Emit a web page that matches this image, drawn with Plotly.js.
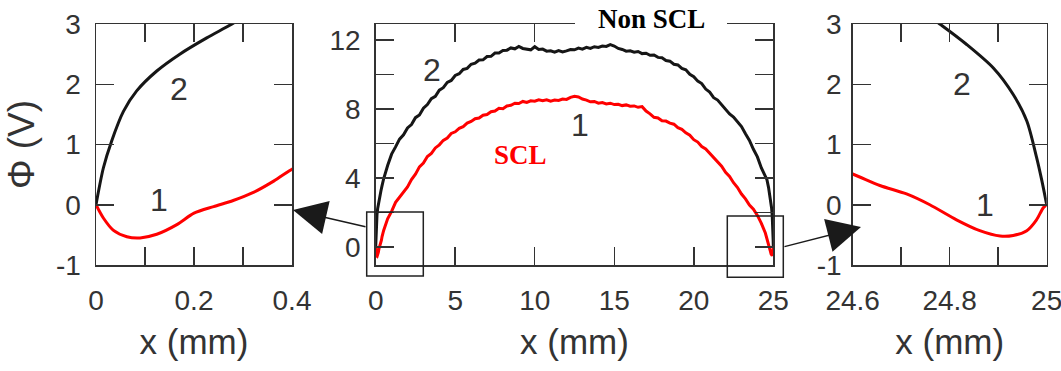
<!DOCTYPE html>
<html>
<head>
<meta charset="utf-8">
<script src="https://cdn.plot.ly/plotly-3.0.1.min.js"></script>
<style>
  html, body { margin: 0; padding: 0; background: #fff; }
  #chart { width: 1061px; height: 371px; }
</style>
</head>
<body>
<div id="chart"></div>
<script>
// Potential profile across the 25 mm gap: curve 2 (without space-charge limit)
// and curve 1 (space-charge limited), with zoomed views of both electrode edges.

const nonSclX = [0, 0.015, 0.032, 0.056, 0.083, 0.124, 0.171, 0.226, 0.273, 0.33, 0.4,
  0.5, 0.75, 1.0, 1.25, 1.5, 1.75, 2.0, 2.25, 2.5, 2.75, 3.0, 3.25, 3.5, 3.75, 4.0, 4.25,
  4.5, 4.75, 5.0, 5.25, 5.5, 5.75, 6.0, 6.25, 6.5, 6.75, 7.0, 7.25, 7.5, 7.75, 8.0, 8.25,
  8.5, 8.75, 9.0, 9.25, 9.5, 9.75, 10.0, 10.25, 10.5, 10.75, 11.0, 11.25, 11.5, 11.75,
  12.0, 12.25, 12.5, 12.75, 13.0, 13.25, 13.5, 13.75, 14.0, 14.25, 14.5, 14.75, 15.0,
  15.25, 15.5, 15.75, 16.0, 16.25, 16.5, 16.75, 17.0, 17.25, 17.5, 17.75, 18.0, 18.25,
  18.5, 18.75, 19.0, 19.25, 19.5, 19.75, 20.0, 20.25, 20.5, 20.75, 21.0, 21.25, 21.5,
  21.75, 22.0, 22.25, 22.5, 22.75, 23.0, 23.25, 23.5, 23.75, 24.0, 24.25, 24.5,
  24.6, 24.7, 24.783, 24.835, 24.89, 24.931, 24.959, 24.979, 24.99, 25.0];
const nonSclPhi = [0, 0.61, 1.06, 1.55, 1.89, 2.22, 2.50, 2.77, 2.98, 3.25, 3.55,
  3.95, 4.72, 5.38, 5.80, 6.25, 6.50, 6.90, 7.10, 7.50, 7.66, 8.05, 8.26, 8.60, 8.74, 9.10, 9.24,
  9.55, 9.66, 9.95, 10.05, 10.30, 10.36, 10.60, 10.66, 10.85, 10.86, 11.05, 11.06, 11.25, 11.26, 11.40, 11.42,
  11.55, 11.50, 11.64, 11.52, 11.48, 11.44, 11.62, 11.46, 11.48, 11.36, 11.38, 11.30, 11.40, 11.32,
  11.38, 11.46, 11.44, 11.54, 11.48, 11.58, 11.52, 11.62, 11.58, 11.66, 11.64, 11.74, 11.66,
  11.52, 11.46, 11.36, 11.38, 11.30, 11.34, 11.22, 11.24, 11.12, 11.14, 11.00, 10.98, 10.82,
  10.78, 10.60, 10.56, 10.36, 10.28, 10.02, 9.88, 9.62, 9.48, 9.16, 8.98, 8.66, 8.52,
  8.26, 8.04, 7.72, 7.54, 7.24, 6.98, 6.56, 6.18, 5.66, 5.22, 4.58, 4.05,
  3.90, 3.45, 2.98, 2.66, 2.27, 1.83, 1.39, 0.79, 0.40, 0];

const sclX = [0, 0.015, 0.035, 0.063, 0.09, 0.124, 0.165, 0.2, 0.24, 0.28, 0.32, 0.36, 0.4,
  0.5, 0.75, 1.0, 1.25, 1.5, 1.75, 2.0, 2.25, 2.5, 2.75, 3.0, 3.25, 3.5, 3.75, 4.0, 4.25,
  4.5, 4.75, 5.0, 5.25, 5.5, 5.75, 6.0, 6.25, 6.5, 6.75, 7.0, 7.25, 7.5, 7.75, 8.0, 8.25,
  8.5, 8.75, 9.0, 9.25, 9.5, 9.75, 10.0, 10.25, 10.5, 10.75, 11.0, 11.25, 11.5, 11.75,
  12.0, 12.25, 12.5, 12.75, 13.0, 13.25, 13.5, 13.75, 14.0, 14.25, 14.5, 14.75, 15.0,
  15.25, 15.5, 15.75, 16.0, 16.25, 16.5, 16.75, 17.0, 17.25, 17.5, 17.75, 18.0, 18.25,
  18.5, 18.75, 19.0, 19.25, 19.5, 19.75, 20.0, 20.25, 20.5, 20.75, 21.0, 21.25, 21.5,
  21.75, 22.0, 22.25, 22.5, 22.75, 23.0, 23.25, 23.5, 23.75, 24.0, 24.25, 24.5,
  24.6, 24.656, 24.711, 24.759, 24.814, 24.862, 24.904, 24.931, 24.959, 24.979, 24.993, 25.0];
const sclPhi = [0, -0.22, -0.42, -0.53, -0.55, -0.49, -0.33, -0.14, -0.03, 0.07, 0.20, 0.38, 0.59,
  0.95, 1.62, 2.05, 2.58, 2.88, 3.24, 3.48, 3.90, 4.22, 4.64, 4.86, 5.24, 5.42, 5.74, 5.92, 6.18,
  6.32, 6.58, 6.68, 6.88, 6.98, 7.18, 7.28, 7.44, 7.48, 7.64, 7.68, 7.84, 7.88, 8.04, 8.02, 8.18,
  8.22, 8.34, 8.32, 8.44, 8.38, 8.48, 8.46, 8.54, 8.48, 8.54, 8.46, 8.52, 8.50, 8.58,
  8.56, 8.68, 8.74, 8.70, 8.58, 8.52, 8.42, 8.44, 8.34, 8.38, 8.30, 8.34, 8.26,
  8.28, 8.20, 8.24, 8.16, 8.18, 8.10, 8.14, 7.88, 7.72, 7.52, 7.48, 7.32, 7.30,
  7.18, 7.12, 6.92, 6.82, 6.62, 6.48, 6.22, 6.08, 5.82, 5.68, 5.42, 5.22, 4.92,
  4.68, 4.32, 4.08, 3.72, 3.44, 3.06, 2.78, 2.42, 2.18, 1.82, 1.36, 0.80,
  0.51, 0.32, 0.18, 0.0, -0.25, -0.43, -0.52, -0.51, -0.43, -0.25, -0.05, 0];

// Tick positions and labels for the three panels
const leftXTicks = [0, 0.1, 0.2, 0.3, 0.4];
const leftXLabels = ['0', '', '0.2', '', '0.4'];
const midXTicks = [0, 5, 10, 15, 20, 25];
const midXLabels = ['0', '5', '10', '15', '20', '25'];
const rightXTicks = [24.6, 24.7, 24.8, 24.9, 25];
const rightXLabels = ['24.6', '', '24.8', '', '25'];
const zoomYTicks = [-1, 0, 1, 2, 3];
const zoomYLabels = ['-1', '0', '1', '2', '3'];
const midYTicks = [0, 2, 4, 6, 8, 10, 12];
const midYLabels = ['0', '', '4', '', '8', '', '12'];

const W = 1061, H = 371;
const fx = p => p / W;          // pixel column -> paper fraction
const fy = p => 1 - p / H;      // pixel row -> paper fraction

const INK = '#333333';
const SANS = '"Liberation Sans", Arial, Helvetica, sans-serif';
const SERIF = '"Liberation Serif", "Times New Roman", serif';

function axisBase(extra) {
  return Object.assign({
    showline: true, mirror: 'ticks', linecolor: INK, linewidth: 1.5,
    ticks: 'inside', ticklen: 18, tickwidth: 1.5, tickcolor: INK,
    showgrid: false, zeroline: false, fixedrange: true, ticklabeloverflow: 'allow',
    tickfont: { family: SANS, size: 28, color: INK }
  }, extra);
}

// the zoomed panels show the smooth edge regions, the centre panel the raw profile
const panels = [
  { xa: 'x', ya: 'y', shape: 'spline' },
  { xa: 'x2', ya: 'y2', shape: 'linear' },
  { xa: 'x3', ya: 'y3', shape: 'spline' }
];

const traces = [];
panels.forEach(p => {
  traces.push({ x: nonSclX, y: nonSclPhi, xaxis: p.xa, yaxis: p.ya, mode: 'lines',
    line: { color: '#161616', width: 3, shape: p.shape, smoothing: 0.8 }, hoverinfo: 'skip', showlegend: false });
  traces.push({ x: sclX, y: sclPhi, xaxis: p.xa, yaxis: p.ya, mode: 'lines',
    line: { color: '#ff0000', width: 3, shape: p.shape, smoothing: 0.8 }, hoverinfo: 'skip', showlegend: false });
});

const yDom = [fy(265), fy(24)];
const xTitle = { text: 'x (mm)', font: { family: SANS, size: 35, color: INK }, standoff: 14 };
const numFont = { family: SANS, size: 32, color: INK };

const layout = {
  width: W, height: H,
  margin: { l: 0, r: 0, t: 0, b: 0 },
  paper_bgcolor: '#ffffff', plot_bgcolor: '#ffffff',
  showlegend: false,
  xaxis: axisBase({ domain: [fx(96), fx(292)], range: [0, 0.4], tickvals: leftXTicks, ticktext: leftXLabels,
    anchor: 'y', ticklabelstandoff: 10, title: xTitle }),
  yaxis: axisBase({ domain: yDom, range: [-1, 3], tickvals: zoomYTicks, ticktext: zoomYLabels,
    anchor: 'x', ticklabelstandoff: 8,
    title: { text: 'Φ (V)', font: { family: SANS, size: 37, color: INK }, standoff: 10 } }),
  xaxis2: axisBase({ domain: [fx(375.7), fx(773.3)], range: [0, 25], tickvals: midXTicks, ticktext: midXLabels,
    anchor: 'y2', ticklabelstandoff: 10, title: xTitle }),
  yaxis2: axisBase({ domain: yDom, range: [-1.06, 12.94], tickvals: midYTicks, ticktext: midYLabels,
    anchor: 'x2', ticklabelstandoff: 8 }),
  xaxis3: axisBase({ domain: [fx(852.7), fx(1046.7)], range: [24.6, 25], tickvals: rightXTicks, ticktext: rightXLabels,
    anchor: 'y3', ticklabelstandoff: 10, title: xTitle }),
  yaxis3: axisBase({ domain: yDom, range: [-1, 3], tickvals: zoomYTicks, ticktext: zoomYLabels,
    anchor: 'x3', ticklabelstandoff: 4 }),
  shapes: [
    // zoom windows at both electrodes
    { type: 'rect', xref: 'paper', yref: 'paper', x0: fx(366.7), x1: fx(423.3), y0: fy(276), y1: fy(212),
      line: { color: '#222', width: 1.5 }, fillcolor: 'rgba(0,0,0,0)', layer: 'above' },
    { type: 'rect', xref: 'paper', yref: 'paper', x0: fx(727.3), x1: fx(783.3), y0: fy(277.3), y1: fy(216),
      line: { color: '#222', width: 1.5 }, fillcolor: 'rgba(0,0,0,0)', layer: 'above' },
    // white backing behind the "Non SCL" caption on the top frame
    { type: 'rect', xref: 'paper', yref: 'paper', x0: fx(575), x1: fx(727), y0: fy(42), y1: fy(0),
      line: { width: 0 }, fillcolor: '#ffffff', layer: 'above' }
  ],
  annotations: [
    { xref: 'paper', yref: 'paper', x: fx(651), y: fy(19), text: '<b>Non SCL</b>', showarrow: false,
      font: { family: SERIF, size: 27, color: '#000' }, xanchor: 'center', yanchor: 'middle' },
    { xref: 'paper', yref: 'paper', x: fx(520), y: fy(155), text: '<b>SCL</b>', showarrow: false,
      font: { family: SERIF, size: 27, color: '#ff0000' }, xanchor: 'center', yanchor: 'middle' },
    // curve numbers
    { xref: 'x', yref: 'y', x: 0.169, y: 1.92, text: '2', showarrow: false, font: numFont },
    { xref: 'x', yref: 'y', x: 0.129, y: 0.08, text: '1', showarrow: false, font: numFont },
    { xref: 'x2', yref: 'y2', x: 3.55, y: 10.26, text: '2', showarrow: false, font: numFont },
    { xref: 'x2', yref: 'y2', x: 12.87, y: 7.07, text: '1', showarrow: false, font: numFont },
    { xref: 'x3', yref: 'y3', x: 24.825, y: 2.01, text: '2', showarrow: false, font: numFont },
    { xref: 'x3', yref: 'y3', x: 24.873, y: 0.0, text: '1', showarrow: false, font: numFont },
    // arrows from the zoom windows to the side panels
    { xref: 'paper', yref: 'paper', x: fx(293), y: fy(210), ax: 74, ay: 17, text: '', showarrow: true,
      arrowhead: 2, arrowsize: 4.5, arrowwidth: 1.5, arrowcolor: '#1a1a1a', standoff: 0 },
    { xref: 'paper', yref: 'paper', x: fx(861), y: fy(227), ax: -78, ay: 20, text: '', showarrow: true,
      arrowhead: 2, arrowsize: 4.5, arrowwidth: 1.5, arrowcolor: '#1a1a1a', standoff: 0 }
  ]
};

Plotly.newPlot('chart', traces, layout, { staticPlot: true, displayModeBar: false });
</script>
</body>
</html>
